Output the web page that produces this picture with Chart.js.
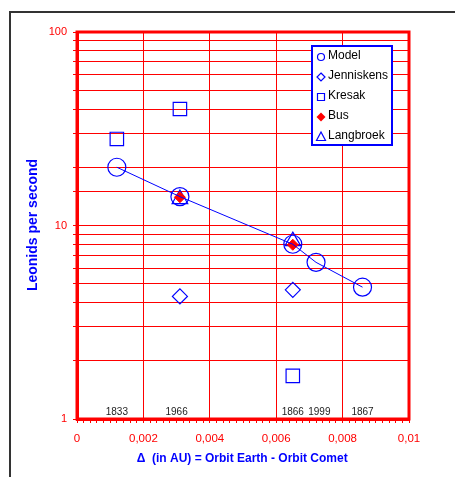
<!DOCTYPE html>
<html>
<head>
<meta charset="utf-8">
<script src="https://cdn.jsdelivr.net/npm/chart.js@4.4.0/dist/chart.umd.min.js"></script>
<style>
  html, body { margin: 0; padding: 0; background: #fff; }
  #wrap { position: relative; width: 455px; height: 477px; }
</style>
</head>
<body>
<div id="wrap"><canvas id="leonidChart" width="455" height="477"></canvas></div>
<script>
// Data
const modelX = [0.0012, 0.0031, 0.0065, 0.0072, 0.0086];
const modelY = [20, 14.1, 8.0, 6.45, 4.8];
const jenniskensX = [0.0031, 0.0065];
const jenniskensY = [4.3, 4.65];
const kresakX = [0.0012, 0.0031, 0.0065];
const kresakY = [28, 40, 1.67];
const busX = [0.0031, 0.0065];
const busY = [14.0, 7.95];
const langbroekX = [0.0031, 0.0065];
const langbroekY = [13.7, 8.3];
const yearLabels = ['1833', '1966', '1866', '1999', '1867'];
const yearX = [0.0012, 0.0030, 0.0065, 0.0073, 0.0086];
const yTickLabels = [1, 10, 100];

const RED = '#ff0000';
const BLUE = '#0000ff';
const FONT = "'Liberation Sans', Arial, sans-serif";

function pts(xs, ys) {
  return xs.map((x, i) => ({ x: x, y: ys[i] }));
}

// legend symbols drawn small, like the reference
function drawSymbol(ctx, kind, x, y) {
  ctx.save();
  ctx.strokeStyle = BLUE;
  ctx.lineWidth = 1.2;
  ctx.beginPath();
  if (kind === 'circle') {
    ctx.arc(x, y, 3.5, 0, Math.PI * 2);
    ctx.stroke();
  } else if (kind === 'diamond') {
    ctx.moveTo(x, y - 4); ctx.lineTo(x + 4, y); ctx.lineTo(x, y + 4); ctx.lineTo(x - 4, y); ctx.closePath();
    ctx.stroke();
  } else if (kind === 'square') {
    ctx.rect(x - 3.5, y - 3.5, 7, 7);
    ctx.stroke();
  } else if (kind === 'bus') {
    ctx.fillStyle = RED;
    ctx.moveTo(x, y - 4.5); ctx.lineTo(x + 4.5, y); ctx.lineTo(x, y + 4.5); ctx.lineTo(x - 4.5, y); ctx.closePath();
    ctx.fill();
  } else if (kind === 'triangle') {
    ctx.moveTo(x, y - 5); ctx.lineTo(x + 4.5, y + 3.5); ctx.lineTo(x - 4.5, y + 3.5); ctx.closePath();
    ctx.stroke();
  }
  ctx.restore();
}

const legendItems = [
  ['Model', 'circle'],
  ['Jenniskens', 'diamond'],
  ['Kresak', 'square'],
  ['Bus', 'bus'],
  ['Langbroek', 'triangle']
];

const decor = {
  id: 'decor',
  beforeDraw(chart) {
    const ctx = chart.ctx;
    ctx.save();
    // outer frame (only left and top edges show)
    ctx.strokeStyle = '#333';
    ctx.lineWidth = 2;
    ctx.beginPath();
    ctx.moveTo(10, 477);
    ctx.lineTo(10, 12);
    ctx.lineTo(455, 12);
    ctx.stroke();
    ctx.restore();
  },
  afterDraw(chart) {
    const ctx = chart.ctx;
    const a = chart.chartArea;
    const xs = chart.scales.x;
    ctx.save();
    // thick plot frame
    ctx.strokeStyle = RED;
    ctx.lineWidth = 3;
    ctx.strokeRect(a.left, a.top, a.right - a.left, a.bottom - a.top);

    // years above the x axis
    ctx.fillStyle = '#222';
    ctx.font = '10px ' + FONT;
    ctx.textAlign = 'center';
    ctx.textBaseline = 'middle';
    yearLabels.forEach((t, i) => {
      ctx.fillText(t, xs.getPixelForValue(yearX[i]), a.bottom - 7);
    });

    // axis titles
    ctx.fillStyle = BLUE;
    ctx.font = 'bold 12px ' + FONT;
    ctx.fillText('\u0394', 141, 459);
    ctx.textAlign = 'left';
    ctx.fillText('(in AU) = Orbit Earth - Orbit Comet', 152, 459);

    ctx.save();
    ctx.translate(33, 225);
    ctx.rotate(-Math.PI / 2);
    ctx.textAlign = 'center';
    ctx.font = 'bold 14px ' + FONT;
    ctx.fillText('Leonids per second', 0, 0);
    ctx.restore();

    // legend box
    const lx = 312, ly = 46, lw = 80, lh = 99;
    ctx.fillStyle = '#fff';
    ctx.fillRect(lx, ly, lw, lh);
    ctx.strokeStyle = BLUE;
    ctx.lineWidth = 2;
    ctx.strokeRect(lx, ly, lw, lh);
    ctx.font = '12px ' + FONT;
    ctx.textAlign = 'left';
    ctx.textBaseline = 'middle';
    legendItems.forEach((it, i) => {
      const y = ly + 10 + i * 20;
      drawSymbol(ctx, it[1], lx + 9, y + 1);
      ctx.fillStyle = '#000';
      ctx.fillText(it[0], lx + 16, y);
    });
    ctx.restore();
  }
};

new Chart(document.getElementById('leonidChart'), {
  type: 'scatter',
  data: {
    datasets: [
      {
        label: 'Model',
        data: pts(modelX, modelY),
        showLine: true,
        borderColor: BLUE,
        borderWidth: 1,
        backgroundColor: 'rgba(0,0,0,0)',
        pointStyle: 'circle',
        pointRadius: 9,
        pointBorderColor: BLUE,
        pointBorderWidth: 1.2,
        order: 1
      },
      {
        label: 'Jenniskens',
        data: pts(jenniskensX, jenniskensY),
        pointStyle: 'rectRot',
        pointRadius: 7.5,
        pointBorderColor: BLUE,
        pointBackgroundColor: 'rgba(0,0,0,0)',
        pointBorderWidth: 1.2,
        order: 2
      },
      {
        label: 'Kresak',
        data: pts(kresakX, kresakY),
        pointStyle: 'rect',
        pointRadius: 9.5,
        pointBorderColor: BLUE,
        pointBackgroundColor: 'rgba(0,0,0,0)',
        pointBorderWidth: 1.2,
        order: 3
      },
      {
        label: 'Bus',
        data: pts(busX, busY),
        pointStyle: 'rectRot',
        pointRadius: 5.5,
        pointBorderColor: RED,
        pointBackgroundColor: RED,
        pointBorderWidth: 1,
        order: 4
      },
      {
        label: 'Langbroek',
        data: pts(langbroekX, langbroekY),
        pointStyle: 'triangle',
        pointRadius: 9,
        pointBorderColor: BLUE,
        pointBackgroundColor: 'rgba(0,0,0,0)',
        pointBorderWidth: 1.2,
        order: 5
      }
    ]
  },
  options: {
    responsive: false,
    animation: false,
    layout: { padding: { top: 32, right: 46, left: 0, bottom: 0 } },
    plugins: {
      legend: { display: false },
      tooltip: { enabled: false }
    },
    scales: {
      x: {
        type: 'linear',
        min: 0,
        max: 0.01,
        afterFit(scale) { scale.height = 58; },
        border: { color: RED, width: 3 },
        grid: {
          color: ctx => (ctx.index % 10 === 0 ? RED : 'rgba(0,0,0,0)'),
          tickColor: RED,
          tickLength: 4,
          lineWidth: 1
        },
        ticks: {
          stepSize: 0.0002,
          autoSkip: false,
          maxRotation: 0,
          padding: 9,
          color: RED,
          font: { family: FONT, size: 11.5 },
          callback: function (v, i) {
            if (i % 10 !== 0) return '';
            const n = Math.round(v * 1000);
            if (n === 0) return '0';
            if (n === 10) return '0,01';
            return '0,00' + n;
          }
        }
      },
      y: {
        type: 'logarithmic',
        min: 1,
        max: 100,
        afterFit(scale) { scale.width = 77; },
        border: { color: RED, width: 3 },
        grid: {
          color: RED,
          tickColor: RED,
          tickLength: 4,
          lineWidth: 1
        },
        ticks: {
          autoSkip: false,
          padding: 6,
          color: RED,
          font: { family: FONT, size: 11 },
          callback: function (v) {
            return yTickLabels.includes(v) ? String(v) : '';
          }
        }
      }
    }
  },
  plugins: [decor]
});
</script>
</body>
</html>
